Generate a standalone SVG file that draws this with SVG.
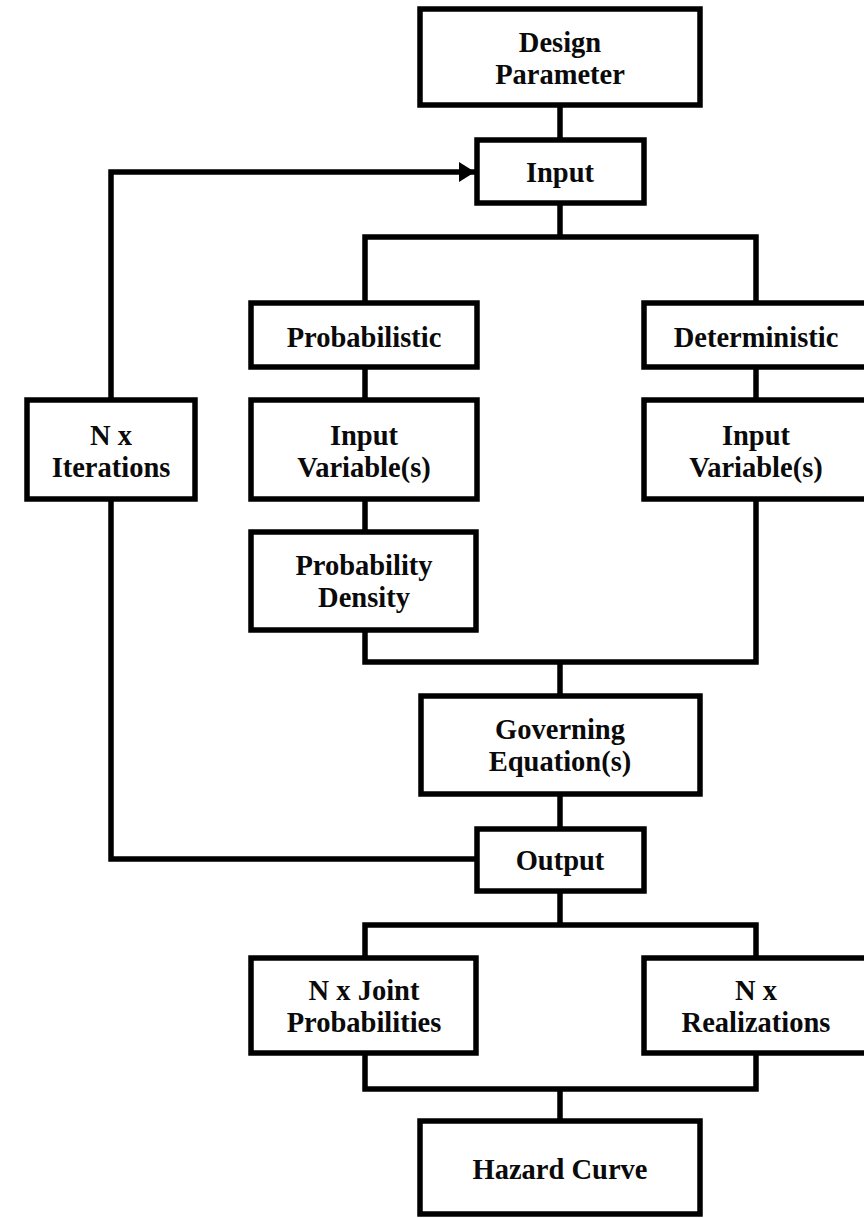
<svg xmlns="http://www.w3.org/2000/svg" width="864" height="1218" viewBox="0 0 864 1218">
<defs>
<style>
.box{fill:#fff;stroke:#000;stroke-width:5.5}
.c{fill:none;stroke:#000;stroke-width:5.5;stroke-linejoin:miter;stroke-linecap:butt}
text{font-family:"Liberation Serif","Times New Roman",serif;font-weight:bold;font-size:28.5px;fill:#0a0a0a;text-anchor:middle}
</style>
<marker id="arr" markerUnits="userSpaceOnUse" markerWidth="17" markerHeight="21" refX="16" refY="10" orient="auto">
<path d="M0,0 L16,10 L0,20 z" fill="#000"/>
</marker>
</defs>
<rect width="864" height="1218" fill="#fff"/>
<g id="connectors">
<line class="c" x1="560" y1="105" x2="560" y2="140"/>
<line class="c" x1="560" y1="203" x2="560" y2="237"/>
<polyline class="c" points="365,303 365,237 756,237 756,303"/>
<line class="c" x1="365" y1="367" x2="365" y2="400"/>
<line class="c" x1="756" y1="367" x2="756" y2="400"/>
<line class="c" x1="365" y1="499" x2="365" y2="532"/>
<polyline class="c" points="365,630 365,662 756,662 756,499"/>
<line class="c" x1="560" y1="662" x2="560" y2="696"/>
<line class="c" x1="560" y1="794" x2="560" y2="829"/>
<line class="c" x1="560" y1="891" x2="560" y2="925"/>
<polyline class="c" points="365,958 365,925 756,925 756,958"/>
<polyline class="c" points="365,1053 365,1089 756,1089 756,1053"/>
<line class="c" x1="560" y1="1089" x2="560" y2="1121"/>
<polyline class="c" points="477,859 111,859 111,499"/>
<polyline class="c" points="111,400 111,172 475,172" marker-end="url(#arr)"/>
</g>
<g id="design-parameter"><rect class="box" x="420" y="9" width="280" height="96"/><text x="560" y="52">Design</text><text x="560" y="84">Parameter</text></g>
<g id="input"><rect class="box" x="477" y="140" width="167" height="63"/><text x="560" y="182">Input</text></g>
<g id="probabilistic"><rect class="box" x="251" y="303" width="226" height="64"/><text x="364" y="347">Probabilistic</text></g>
<g id="deterministic"><rect class="box" x="644" y="303" width="226" height="64"/><text x="756" y="347">Deterministic</text></g>
<g id="iterations"><rect class="box" x="27" y="400" width="168" height="99"/><text x="111" y="445">N x</text><text x="111" y="477">Iterations</text></g>
<g id="input-variables-prob"><rect class="box" x="251" y="400" width="226" height="99"/><text x="364" y="445">Input</text><text x="364" y="477">Variable(s)</text></g>
<g id="input-variables-det"><rect class="box" x="644" y="400" width="226" height="99"/><text x="756" y="445">Input</text><text x="756" y="477">Variable(s)</text></g>
<g id="probability-density"><rect class="box" x="251" y="532" width="225" height="98"/><text x="364" y="575">Probability</text><text x="364" y="607">Density</text></g>
<g id="governing-equations"><rect class="box" x="421" y="696" width="279" height="98"/><text x="560" y="739">Governing</text><text x="560" y="771">Equation(s)</text></g>
<g id="output"><rect class="box" x="477" y="829" width="167" height="62"/><text x="560" y="870">Output</text></g>
<g id="joint-probabilities"><rect class="box" x="251" y="958" width="225" height="95"/><text x="364" y="1000">N x Joint</text><text x="364" y="1032">Probabilities</text></g>
<g id="realizations"><rect class="box" x="644" y="958" width="226" height="95"/><text x="756" y="1000">N x</text><text x="756" y="1032">Realizations</text></g>
<g id="hazard-curve"><rect class="box" x="420" y="1121" width="280" height="93"/><text x="560" y="1179">Hazard Curve</text></g>
</svg>
